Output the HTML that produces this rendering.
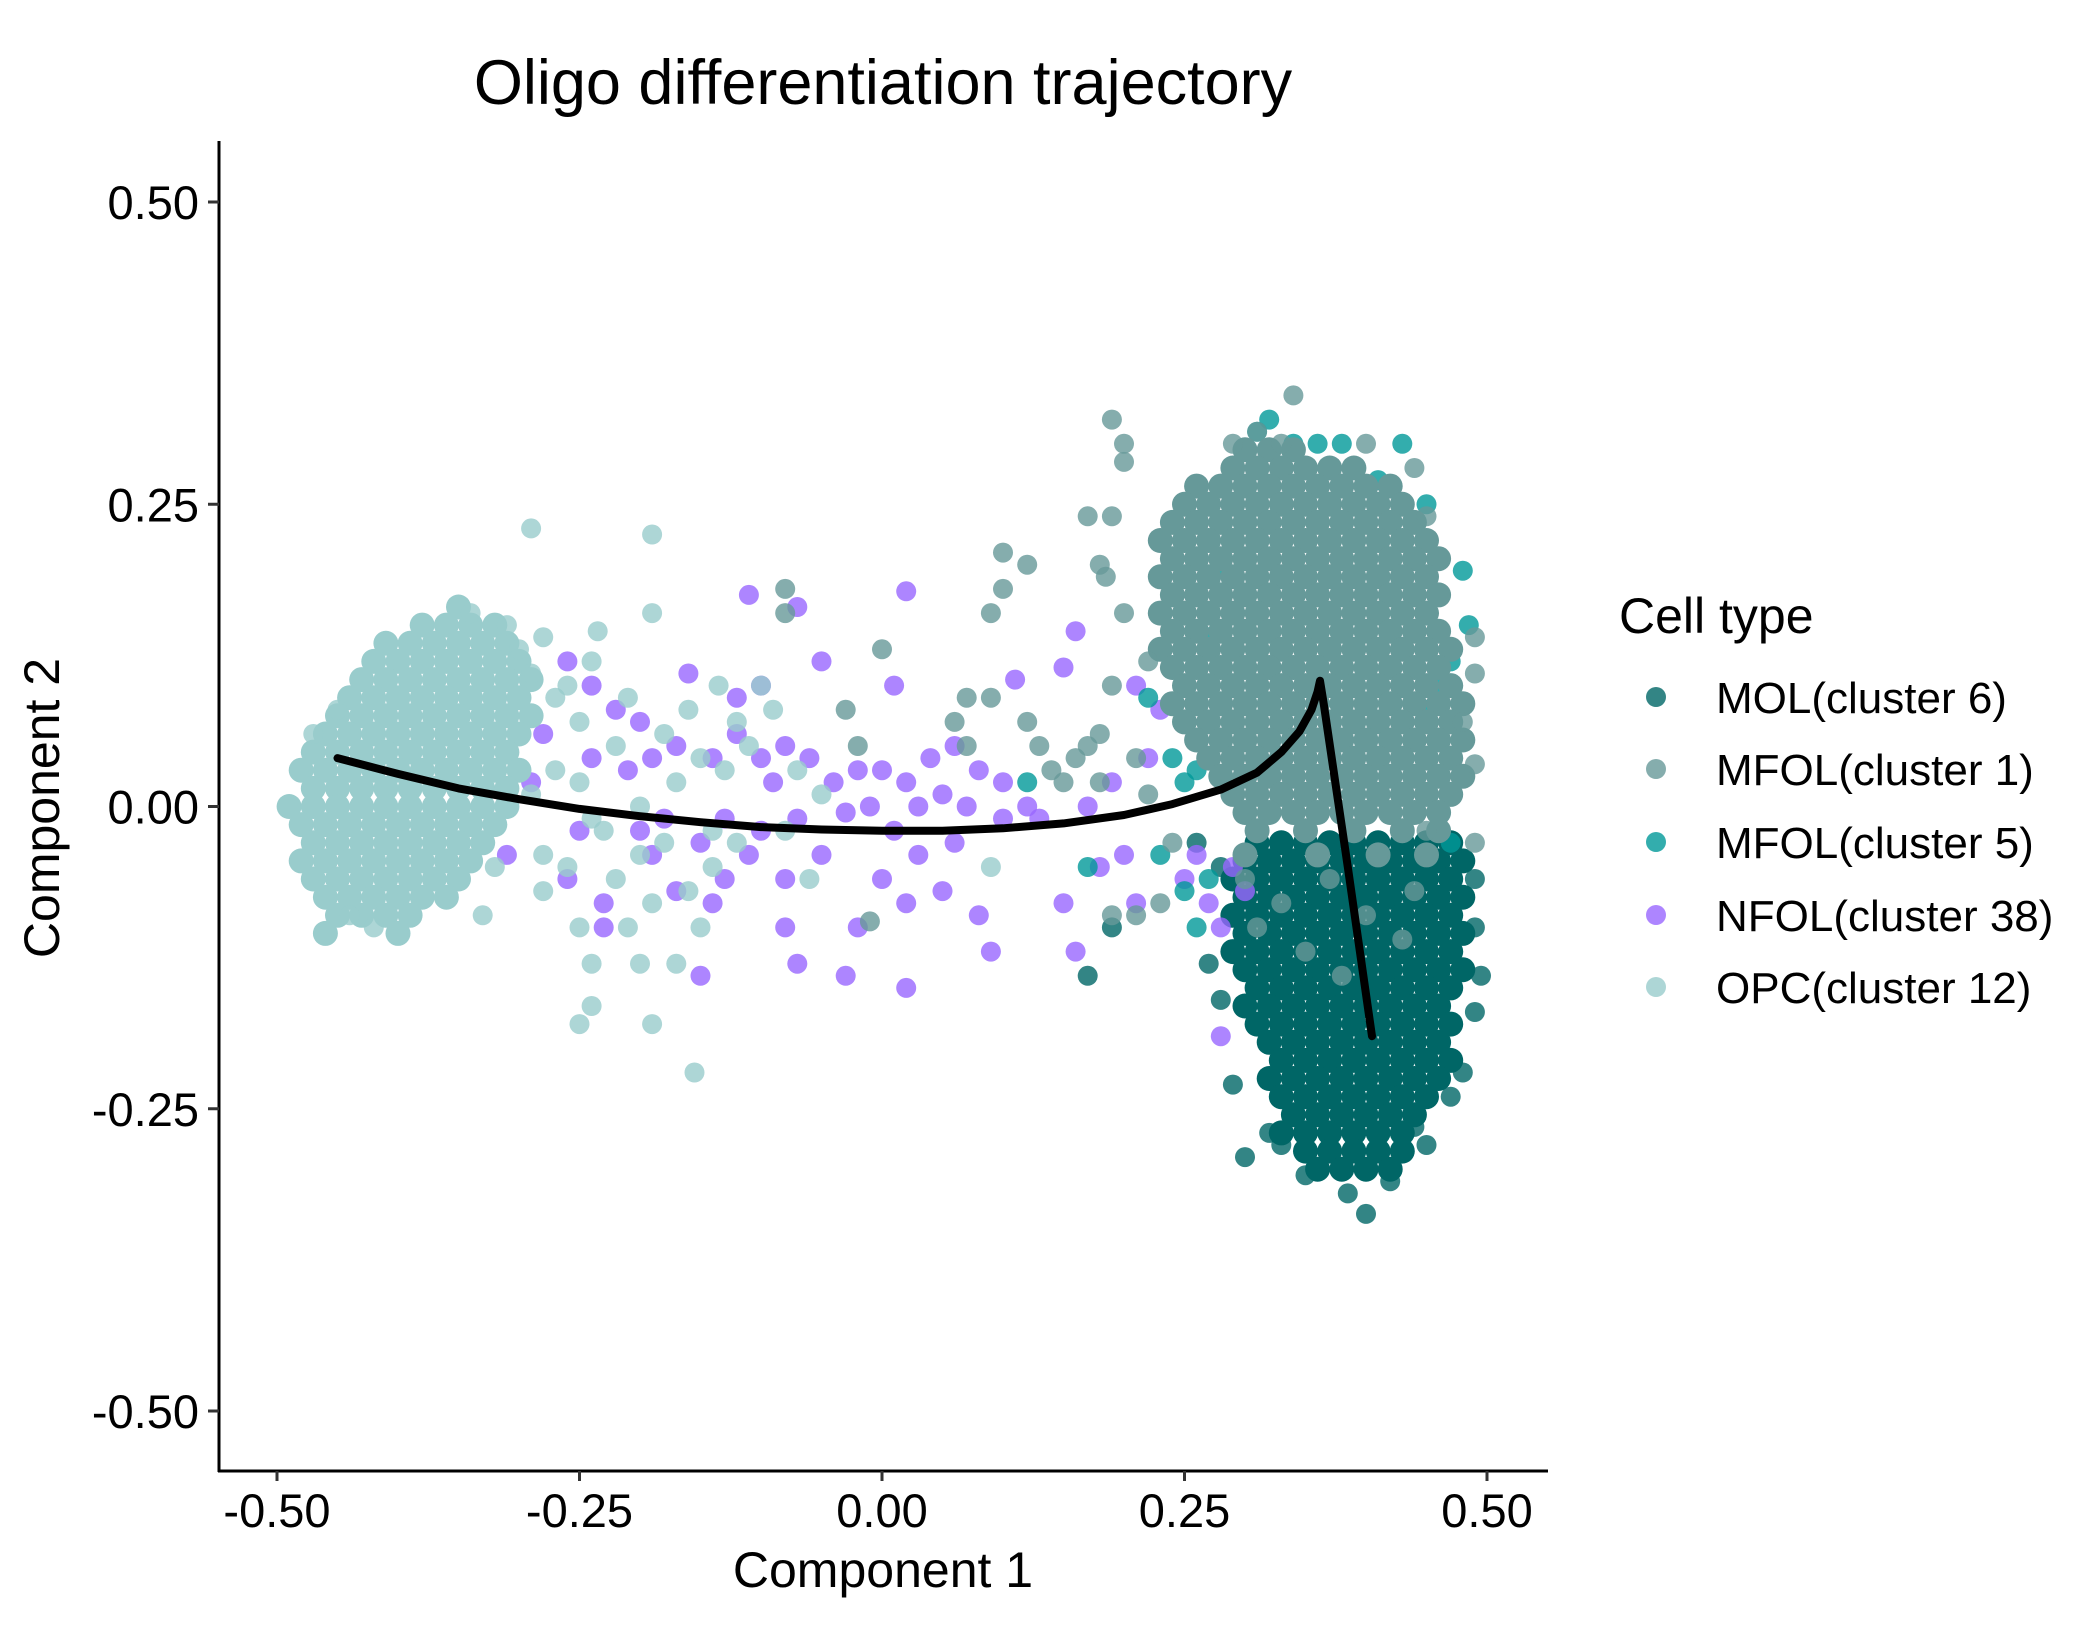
<!DOCTYPE html>
<html>
<head>
<meta charset="utf-8">
<style>
html,body{margin:0;padding:0;background:#fff;}
svg{display:block;font-family:"Liberation Sans",Arial,sans-serif;}
</style>
</head>
<body>
<svg id="chart" width="2100" height="1650" viewBox="0 0 2100 1650">
  <text x="883" y="104" font-size="63" text-anchor="middle" fill="#000">Oligo differentiation trajectory</text>
  <g id="points"></g>
  <g id="traj"></g>
  <g id="axes"></g>
  <text x="883" y="1587" font-size="50" text-anchor="middle">Component 1</text>
  <text transform="translate(59,808) rotate(-90)" font-size="50" text-anchor="middle">Component 2</text>
  <g id="legend">
    <text x="1619" y="633" font-size="50">Cell type</text>
  </g>
</svg>
<script>
const xTicks = [-0.5, -0.25, 0, 0.25, 0.5];
const xTickLabels = ["-0.50", "-0.25", "0.00", "0.25", "0.50"];
const yTicks = [0.5, 0.25, 0, -0.25, -0.5];
const yTickLabels = ["0.50", "0.25", "0.00", "-0.25", "-0.50"];
const categories = ["MOL(cluster 6)", "MFOL(cluster 1)", "MFOL(cluster 5)", "NFOL(cluster 38)", "OPC(cluster 12)"];
const colors = ["#006666", "#669999", "#009999", "#9966FF", "#99CCCC"];

// dense core rows: [y, x1, x2, ...]
const molRows = [
 [-0.03,0.31,0.33,0.35,0.37,0.39,0.41,0.43,0.45,0.47],
 [-0.045,0.30,0.32,0.34,0.36,0.38,0.40,0.42,0.44,0.46,0.48],
 [-0.06,0.29,0.31,0.33,0.35,0.37,0.39,0.41,0.43,0.45,0.47],
 [-0.075,0.30,0.32,0.34,0.36,0.38,0.40,0.42,0.44,0.46,0.48],
 [-0.09,0.29,0.31,0.33,0.35,0.37,0.39,0.41,0.43,0.45,0.47],
 [-0.105,0.30,0.32,0.34,0.36,0.38,0.40,0.42,0.44,0.46,0.48],
 [-0.12,0.29,0.31,0.33,0.35,0.37,0.39,0.41,0.43,0.45,0.47],
 [-0.135,0.30,0.32,0.34,0.36,0.38,0.40,0.42,0.44,0.46,0.48],
 [-0.15,0.31,0.33,0.35,0.37,0.39,0.41,0.43,0.45,0.47],
 [-0.165,0.30,0.32,0.34,0.36,0.38,0.40,0.42,0.44,0.46],
 [-0.18,0.31,0.33,0.35,0.37,0.39,0.41,0.43,0.45,0.47],
 [-0.195,0.32,0.34,0.36,0.38,0.40,0.42,0.44,0.46],
 [-0.21,0.33,0.35,0.37,0.39,0.41,0.43,0.45,0.47],
 [-0.225,0.32,0.34,0.36,0.38,0.40,0.42,0.44,0.46],
 [-0.24,0.33,0.35,0.37,0.39,0.41,0.43,0.45],
 [-0.255,0.34,0.36,0.38,0.40,0.42,0.44],
 [-0.27,0.33,0.35,0.37,0.39,0.41,0.43],
 [-0.285,0.35,0.37,0.39,0.41,0.43],
 [-0.30,0.36,0.38,0.40,0.42]
];
const molExtra = [[0.40,-0.337],[0.385,-0.32],[0.42,-0.31],[0.30,-0.29],[0.33,-0.28],[0.29,-0.23],[0.28,-0.16],[0.27,-0.13],[0.49,-0.10],[0.495,-0.14],[0.49,-0.17],[0.48,-0.22],[0.47,-0.24],[0.45,-0.28],[0.17,-0.14],[0.26,-0.03],[0.19,-0.10],[0.32,-0.27],[0.35,-0.305],[0.44,-0.265],[0.28,-0.05],[0.49,-0.06]];

const mfol1Rows = [
 [0.295,0.30,0.32,0.34],
 [0.28,0.29,0.31,0.33,0.35,0.37,0.39],
 [0.265,0.26,0.28,0.30,0.32,0.34,0.36,0.38,0.40,0.42],
 [0.25,0.25,0.27,0.29,0.31,0.33,0.35,0.37,0.39,0.41,0.43],
 [0.235,0.24,0.26,0.28,0.30,0.32,0.34,0.36,0.38,0.40,0.42,0.44],
 [0.22,0.23,0.25,0.27,0.29,0.31,0.33,0.35,0.37,0.39,0.41,0.43,0.45],
 [0.205,0.24,0.26,0.28,0.30,0.32,0.34,0.36,0.38,0.40,0.42,0.44,0.46],
 [0.19,0.23,0.25,0.27,0.29,0.31,0.33,0.35,0.37,0.39,0.41,0.43,0.45],
 [0.175,0.24,0.26,0.28,0.30,0.32,0.34,0.36,0.38,0.40,0.42,0.44,0.46],
 [0.16,0.23,0.25,0.27,0.29,0.31,0.33,0.35,0.37,0.39,0.41,0.43,0.45],
 [0.145,0.24,0.26,0.28,0.30,0.32,0.34,0.36,0.38,0.40,0.42,0.44,0.46],
 [0.13,0.23,0.25,0.27,0.29,0.31,0.33,0.35,0.37,0.39,0.41,0.43,0.45,0.47],
 [0.115,0.24,0.26,0.28,0.30,0.32,0.34,0.36,0.38,0.40,0.42,0.44,0.46],
 [0.10,0.25,0.27,0.29,0.31,0.33,0.35,0.37,0.39,0.41,0.43,0.45,0.47],
 [0.085,0.24,0.26,0.28,0.30,0.32,0.34,0.36,0.38,0.40,0.42,0.44,0.46,0.48],
 [0.07,0.25,0.27,0.29,0.31,0.33,0.35,0.37,0.39,0.41,0.43,0.45,0.47],
 [0.055,0.26,0.28,0.30,0.32,0.34,0.36,0.38,0.40,0.42,0.44,0.46,0.48],
 [0.04,0.27,0.29,0.31,0.33,0.35,0.37,0.39,0.41,0.43,0.45,0.47],
 [0.025,0.28,0.30,0.32,0.34,0.36,0.38,0.40,0.42,0.44,0.46,0.48],
 [0.01,0.29,0.31,0.33,0.35,0.37,0.39,0.41,0.43,0.45,0.47],
 [-0.005,0.30,0.32,0.34,0.36,0.38,0.40,0.42,0.44,0.46],
 [-0.02,0.31,0.35,0.39,0.43,0.46],
 [-0.04,0.30,0.36,0.41,0.45]
];
const mfol1Extra = [[0.19,0.32],[0.20,0.30],[0.20,0.285],[0.17,0.24],[0.19,0.24],[0.10,0.21],[0.12,0.20],[0.18,0.20],[0.10,0.18],[0.09,0.16],[0.185,0.19],[-0.08,0.18],[-0.08,0.16],[0.00,0.13],[-0.03,0.08],[0.07,0.09],[0.09,0.09],[0.12,0.07],[0.07,0.05],[0.13,0.05],[0.14,0.03],[0.17,0.05],[0.16,0.04],[0.18,0.06],[-0.02,0.05],[0.06,0.07],[0.20,0.16],[0.22,0.12],[0.19,0.10],[0.18,0.02],[0.15,0.02],[0.19,-0.09],[-0.01,-0.095],[0.21,-0.09],[0.23,-0.08],[0.21,0.04],[0.22,0.01],[0.24,-0.03],[0.30,-0.06],[0.33,-0.08],[0.37,-0.06],[0.40,-0.09],[0.44,-0.07],[0.35,-0.12],[0.41,-0.04],[0.31,-0.10],[0.45,-0.02],[0.29,0.30],[0.31,0.31],[0.33,0.30],[0.34,0.34],[0.40,0.30],[0.44,0.28],[0.45,0.24],[0.49,0.14],[0.49,0.11],[0.48,0.07],[0.49,0.035],[0.49,-0.03],[0.38,-0.14],[0.43,-0.11]];

const mfol5Pts = [[0.32,0.32],[0.31,0.31],[0.34,0.30],[0.36,0.30],[0.38,0.30],[0.43,0.30],[0.48,0.195],[0.485,0.15],[0.47,0.12],[0.22,0.09],[0.12,0.02],[0.17,-0.05],[0.24,0.04],[0.25,0.02],[0.23,-0.04],[0.25,-0.07],[0.26,-0.10],[0.46,0.10],[0.47,-0.03],[0.47,0.04],[0.26,0.03],[0.27,-0.06],[0.28,0.20],[0.27,0.14],[0.45,0.25],[0.45,0.08],[0.29,0.28],[0.41,0.27]];

const nfolPts = [[-0.11,0.175],[-0.07,0.165],[0.02,0.178],[-0.16,0.11],[-0.12,0.09],[-0.10,0.10],[-0.05,0.12],[0.01,0.10],[0.11,0.105],[0.16,0.145],[0.15,0.115],[-0.26,0.12],[-0.24,0.10],[-0.28,0.06],[-0.29,0.02],[-0.24,0.04],[-0.21,0.03],[-0.19,0.04],[-0.17,0.05],[-0.14,0.04],[-0.12,0.06],[-0.10,0.04],[-0.08,0.05],[-0.06,0.04],[-0.04,0.02],[-0.02,0.03],[0.00,0.03],[0.02,0.02],[0.04,0.04],[0.06,0.05],[0.08,0.03],[0.10,0.02],[-0.20,-0.02],[-0.18,-0.01],[-0.15,-0.03],[-0.13,-0.01],[-0.10,-0.02],[-0.07,-0.01],[-0.03,-0.005],[0.01,-0.02],[0.03,-0.04],[0.06,-0.03],[0.10,-0.01],[0.13,-0.01],[0.17,0.00],[0.19,0.02],[-0.26,-0.06],[-0.23,-0.08],[-0.19,-0.04],[-0.13,-0.06],[-0.11,-0.04],[-0.08,-0.06],[0.00,-0.06],[0.02,-0.08],[0.05,-0.07],[-0.08,-0.10],[-0.14,-0.08],[-0.23,-0.10],[-0.07,-0.13],[-0.03,-0.14],[0.02,-0.15],[0.09,-0.12],[0.15,-0.08],[0.16,-0.12],[0.18,-0.05],[0.20,-0.04],[0.21,-0.08],[0.25,-0.06],[0.26,-0.04],[0.27,-0.08],[0.28,-0.10],[0.28,-0.19],[0.22,0.04],[0.23,0.08],[0.21,0.10],[0.29,-0.05],[0.30,-0.07],[-0.31,-0.04],[-0.33,0.00],[-0.25,-0.02],[-0.05,-0.04],[0.03,0.00],[0.07,0.00],[-0.22,0.08],[-0.17,-0.07],[-0.02,-0.10],[-0.15,-0.14],[-0.20,0.07],[-0.09,0.02],[0.12,0.00],[0.08,-0.09],[-0.01,0.00],[0.05,0.01]];

const opcRows = [
 [0.165,-0.35],
 [0.15,-0.38,-0.36,-0.34,-0.32],
 [0.135,-0.41,-0.39,-0.37,-0.35,-0.33,-0.31],
 [0.12,-0.42,-0.40,-0.38,-0.36,-0.34,-0.32,-0.30],
 [0.105,-0.43,-0.41,-0.39,-0.37,-0.35,-0.33,-0.31,-0.29],
 [0.09,-0.44,-0.42,-0.40,-0.38,-0.36,-0.34,-0.32,-0.30],
 [0.075,-0.45,-0.43,-0.41,-0.39,-0.37,-0.35,-0.33,-0.31,-0.29],
 [0.06,-0.46,-0.44,-0.42,-0.40,-0.38,-0.36,-0.34,-0.32,-0.30],
 [0.045,-0.47,-0.45,-0.43,-0.41,-0.39,-0.37,-0.35,-0.33,-0.31],
 [0.03,-0.48,-0.46,-0.44,-0.42,-0.40,-0.38,-0.36,-0.34,-0.32,-0.30],
 [0.015,-0.47,-0.45,-0.43,-0.41,-0.39,-0.37,-0.35,-0.33,-0.31],
 [0.0,-0.49,-0.47,-0.45,-0.43,-0.41,-0.39,-0.37,-0.35,-0.33,-0.31],
 [-0.015,-0.48,-0.46,-0.44,-0.42,-0.40,-0.38,-0.36,-0.34,-0.32],
 [-0.03,-0.47,-0.45,-0.43,-0.41,-0.39,-0.37,-0.35,-0.33],
 [-0.045,-0.48,-0.46,-0.44,-0.42,-0.40,-0.38,-0.36,-0.34],
 [-0.06,-0.47,-0.45,-0.43,-0.41,-0.39,-0.37,-0.35],
 [-0.075,-0.46,-0.44,-0.42,-0.40,-0.38,-0.36],
 [-0.09,-0.45,-0.43,-0.41,-0.39],
 [-0.105,-0.46,-0.40]
];
const opcExtra = [[-0.29,0.23],[-0.19,0.225],[-0.19,0.16],[-0.235,0.145],[-0.24,0.12],[-0.135,0.10],[-0.10,0.10],[-0.09,0.08],[-0.11,0.05],[-0.07,0.03],[-0.05,0.01],[-0.06,-0.06],[0.09,-0.05],[-0.25,-0.18],[-0.19,-0.18],[-0.24,-0.165],[-0.155,-0.22],[-0.20,-0.13],[-0.17,-0.13],[-0.24,-0.13],[-0.25,-0.10],[-0.21,-0.10],[-0.15,-0.10],[-0.19,-0.08],[-0.16,-0.07],[-0.22,-0.06],[-0.18,-0.03],[-0.14,-0.02],[-0.12,-0.03],[-0.26,-0.05],[-0.28,-0.04],[-0.23,-0.02],[-0.20,0.00],[-0.17,0.02],[-0.15,0.04],[-0.13,0.03],[-0.22,0.05],[-0.25,0.07],[-0.27,0.09],[-0.29,0.11],[-0.30,0.13],[-0.26,0.10],[-0.21,0.09],[-0.18,0.06],[-0.16,0.08],[-0.12,0.07],[-0.33,-0.09],[-0.32,-0.05],[-0.28,-0.07],[-0.20,-0.04],[-0.14,-0.05],[-0.25,0.02],[-0.27,0.03],[-0.29,0.01],[-0.24,-0.01],[-0.08,-0.02],[-0.34,0.16],[-0.31,0.15],[-0.28,0.14],[-0.45,0.08],[-0.47,0.06],[-0.44,-0.09],[-0.42,-0.10]];

const trajX = [-0.45,-0.40,-0.35,-0.30,-0.25,-0.20,-0.15,-0.10,-0.05,0.00,0.05,0.10,0.15,0.20,0.24,0.28,0.31,0.33,0.345,0.355,0.36,0.362,0.365,0.385,0.405];
const trajY = [0.040,0.027,0.015,0.006,-0.002,-0.008,-0.013,-0.017,-0.019,-0.020,-0.020,-0.018,-0.014,-0.007,0.002,0.014,0.028,0.045,0.062,0.080,0.095,0.104,0.085,-0.05,-0.19];

const NS = "http://www.w3.org/2000/svg";
const X0 = 277, XS = 1210, Y0 = 806.5, YS = 1209;
function sx(v){ return X0 + (v + 0.5) * XS; }
function sy(v){ return Y0 - v * YS; }
const R = 10, RCORE = 12.5;

const pg = document.getElementById('points');
function dot(x, y, ci, name, r, op){
  const c = document.createElementNS(NS, 'circle');
  c.setAttribute('cx', sx(x).toFixed(1));
  c.setAttribute('cy', sy(y).toFixed(1));
  c.setAttribute('r', r);
  c.setAttribute('fill', colors[ci]);
  c.setAttribute('fill-opacity', op);
  
  
  pg.appendChild(c);
}
function drawRows(rows, ci, name){
  rows.forEach(r => { for (let i = 1; i < r.length; i++) dot(r[i], r[0], ci, name, RCORE, '1'); });
}
function drawPts(pts, ci, name){ pts.forEach(p => dot(p[0], p[1], ci, name, R, '0.8')); }

drawRows(molRows, 0, 'mol-point');
drawPts(molExtra, 0, 'mol-point');
drawPts(nfolPts, 3, 'nfol-point');
drawPts(mfol5Pts, 2, 'mfol5-point');
drawRows(mfol1Rows, 1, 'mfol1-point');
drawPts(mfol1Extra, 1, 'mfol1-point');
drawRows(opcRows, 4, 'opc-point');
drawPts(opcExtra, 4, 'opc-point');

// trajectory
const tg = document.getElementById('traj');
let d = '';
trajX.forEach((v, i) => { d += (i ? 'L' : 'M') + sx(v).toFixed(1) + ',' + sy(trajY[i]).toFixed(1); });
const path = document.createElementNS(NS, 'path');
path.setAttribute('d', d);
path.setAttribute('fill', 'none');
path.setAttribute('stroke', '#000');
path.setAttribute('stroke-width', '8');
path.setAttribute('stroke-linejoin', 'round');
path.setAttribute('stroke-linecap', 'round');


tg.appendChild(path);

// axes
const ag = document.getElementById('axes');
function line(x1, y1, x2, y2, w, col, name){
  const l = document.createElementNS(NS, 'line');
  l.setAttribute('x1', x1); l.setAttribute('y1', y1);
  l.setAttribute('x2', x2); l.setAttribute('y2', y2);
  l.setAttribute('stroke', col); l.setAttribute('stroke-width', w);
  
  
  ag.appendChild(l);
}
function txt(x, y, s, anchor, size, name, parent){
  const t = document.createElementNS(NS, 'text');
  t.setAttribute('x', x); t.setAttribute('y', y);
  t.setAttribute('text-anchor', anchor);
  t.setAttribute('font-size', size);
  t.setAttribute('fill', '#000');
  t.textContent = s;
  
  
  (parent || ag).appendChild(t);
}
line(219, 141, 219, 1472, 3, '#000', 'y-axis-line');
line(218, 1471, 1548, 1471, 3, '#000', 'x-axis-line');
xTicks.forEach((v, i) => {
  line(sx(v), 1471, sx(v), 1481, 3, '#333', 'x-tick');
  txt(sx(v), 1527, xTickLabels[i], 'middle', 47, 'x-tick-label');
});
yTicks.forEach((v, i) => {
  line(208, sy(v), 219, sy(v), 3, '#333', 'y-tick');
  txt(199, sy(v) + 17, yTickLabels[i], 'end', 47, 'y-tick-label');
});

// legend
const lg = document.getElementById('legend');
const legY = [697, 769, 842, 915, 987];
categories.forEach((c, i) => {
  const g = document.createElementNS(NS, 'g');
  
  
  const k = document.createElementNS(NS, 'circle');
  k.setAttribute('cx', 1656); k.setAttribute('cy', legY[i]); k.setAttribute('r', R);
  k.setAttribute('fill', colors[i]); k.setAttribute('fill-opacity', '0.8');
  
  
  g.appendChild(k);
  txt(1716, legY[i] + 16, c, 'start', 44, 'legend-label', g);
  lg.appendChild(g);
});
</script>
</body>
</html>
